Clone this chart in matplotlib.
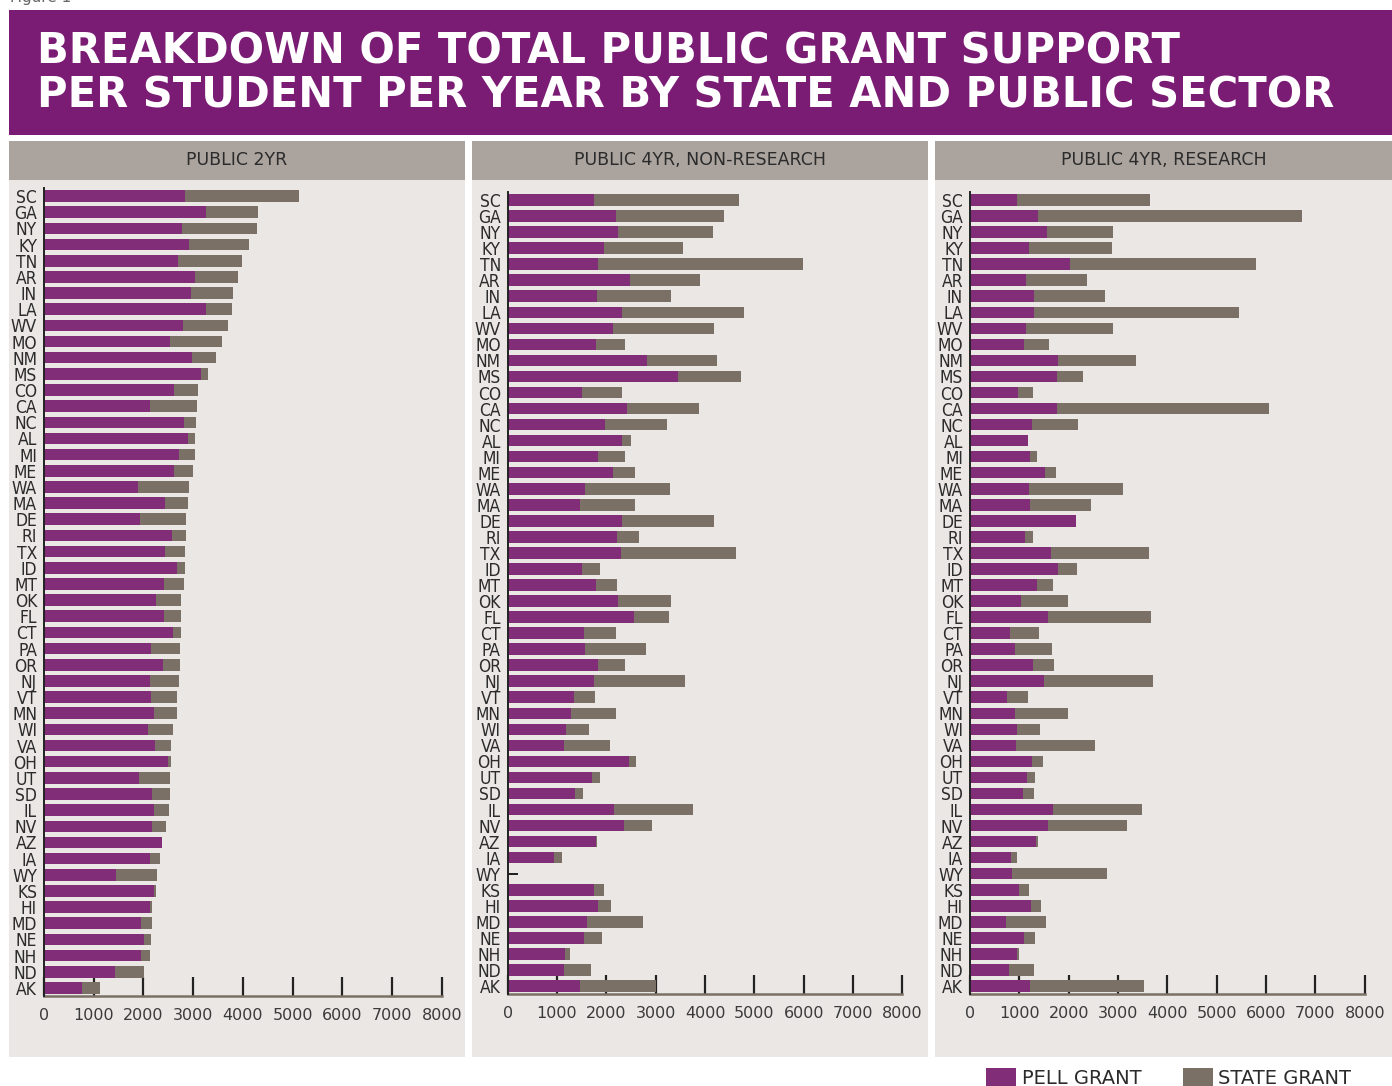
import matplotlib.pyplot as plt
from matplotlib.patches import Rectangle
import numpy as np

states = ['SC', 'GA', 'NY', 'KY', 'TN', 'AR', 'IN', 'LA', 'WV', 'MO', 'NM', 'MS', 'CO', 'CA', 'NC', 'AL', 'MI',
          'ME', 'WA', 'MA', 'DE', 'RI', 'TX', 'ID', 'MT', 'OK', 'FL', 'CT', 'PA', 'OR', 'NJ', 'VT', 'MN', 'WI',
          'VA', 'OH', 'UT', 'SD', 'IL', 'NV', 'AZ', 'IA', 'WY', 'KS', 'HI', 'MD', 'NE', 'NH', 'ND', 'AK']

# public 2yr
pell_2yr = [2840, 3260, 2780, 2920, 2700, 3040, 2960, 3260, 2800, 2540, 2980, 3160, 2620, 2135, 2820, 2900, 2720,
            2620, 1890, 2435, 1935, 2575, 2435, 2680, 2415, 2255, 2415, 2595, 2155, 2395, 2135, 2155, 2215, 2095,
            2235, 2495, 1915, 2175, 2215, 2175, 2375, 2135, 1450, 2215, 2135, 1955, 2015, 1955, 1430, 765]
state_2yr = [2295, 1050, 1510, 1210, 1290, 865, 845, 525, 905, 1045, 485, 140, 485, 945, 240, 140, 320,
             380, 1025, 465, 925, 285, 405, 160, 405, 505, 345, 160, 585, 340, 585, 525, 465, 505,
             320, 60, 625, 365, 300, 280, 0, 200, 825, 40, 40, 220, 140, 180, 585, 365]

# public 4yr, non-research (no data for WY)
pell_4nr = [1750, 2195, 2235, 1955, 1830, 2480, 1810, 2320, 2135, 1790, 2825, 3455, 1505, 2420, 1975, 2320, 1830,
            2135, 1570, 1465, 2320, 2215, 2295, 1505, 1790, 2235, 2560, 1545, 1570, 1830, 1750, 1345, 1285, 1180,
            1140, 2460, 1710, 1365, 2155, 2360, 1790, 940, np.nan, 1750, 1830, 1610, 1545, 1160, 1140, 1465]
state_4nr = [2940, 2190, 1925, 1600, 4155, 1420, 1500, 2470, 2045, 590, 1420, 1275, 810, 1460, 1255, 180, 550,
             445, 1725, 1115, 1865, 445, 2330, 365, 425, 1075, 710, 650, 1235, 550, 1845, 425, 910, 470,
             935, 140, 165, 160, 1600, 570, 20, 160, np.nan, 205, 265, 1135, 365, 100, 550, 1540]

# public 4yr, research
pell_4r = [955, 1380, 1560, 1195, 2025, 1135, 1295, 1295, 1135, 1095, 1785, 1765, 975, 1765, 1255, 1175, 1215,
           1520, 1195, 1215, 2150, 1115, 1640, 1785, 1360, 1035, 1580, 810, 910, 1275, 1500, 750, 910, 955,
           930, 1255, 1155, 1075, 1680, 1580, 1340, 830, 850, 995, 1235, 730, 1095, 955, 790, 1215]
state_4r = [2695, 5350, 1340, 1680, 3770, 1235, 1440, 4155, 1765, 505, 1580, 525, 305, 4295, 930, 0, 140,
            225, 1905, 1235, 0, 160, 1985, 385, 325, 950, 2090, 590, 750, 425, 2210, 425, 1075, 465,
            1600, 225, 165, 225, 1805, 1600, 40, 120, 1925, 200, 205, 810, 225, 40, 505, 2310]

panels = ['PUBLIC 2YR', 'PUBLIC 4YR, NON-RESEARCH', 'PUBLIC 4YR, RESEARCH']
series = [(pell_2yr, state_2yr), (pell_4nr, state_4nr), (pell_4r, state_4r)]
xticks = [0, 1000, 2000, 3000, 4000, 5000, 6000, 7000, 8000]

PURPLE = '#812d78'
BANNER = '#7b1c74'
GREY = '#7a7066'
PANEL_BG = '#ebe7e5'
HEAD_BG = '#aaa39e'
TXT = '#2b2b2b'

W, H = 1392, 1086
fig = plt.figure(figsize=(W / 100, H / 100), dpi=100)
fig.patch.set_facecolor('white')


def box(x0, y0, x1, y1, color):
    # rectangle given in pixel coords, y measured from the top
    fig.add_artist(Rectangle((x0 / W, 1 - y1 / H), (x1 - x0) / W, (y1 - y0) / H,
                             transform=fig.transFigure, color=color, zorder=-5, lw=0))


fig.text(10 / W, 1 + 2 / H, 'Figure 1', fontsize=11, color='#666666', va='center')

# title banner
box(9, 10, 1400, 135, BANNER)
fig.text(37 / W, 1 - 51 / H, 'BREAKDOWN OF TOTAL PUBLIC GRANT SUPPORT', color='white',
         fontsize=30, fontweight='bold', va='center', family='DejaVu Sans')
fig.text(37 / W, 1 - 96 / H, 'PER STUDENT PER YEAR BY STATE AND PUBLIC SECTOR', color='white',
         fontsize=30, fontweight='bold', va='center', family='DejaVu Sans')

panel_x = [(9, 465), (472, 928), (935, 1400)]
axis_x = [(44, 441.7), (507.7, 902.3), (970, 1364.7)]
axis_y = [(188, 996), (192, 994), (192, 994)]

y = np.arange(len(states))
for i in range(3):
    px0, px1 = panel_x[i]
    box(px0, 141, px1, 180, HEAD_BG)
    box(px0, 180, px1, 1057, PANEL_BG)
    fig.text(((px0 + min(px1, 1392)) / 2) / W, 1 - 160 / H, panels[i], ha='center', va='center',
             fontsize=12.5, color=TXT, fontweight='medium')

    ax0, ax1 = axis_x[i]
    ay0, ay1 = axis_y[i]
    ax = fig.add_axes([ax0 / W, 1 - ay1 / H, (ax1 - ax0) / W, (ay1 - ay0) / H])
    ax.patch.set_alpha(0)
    pell, state = series[i]
    pell = np.array(pell, dtype=float)
    state = np.array(state, dtype=float)
    ax.barh(y, pell, height=0.72, color=PURPLE, zorder=2)
    ax.barh(y, state, left=pell, height=0.72, color=GREY, zorder=2)
    # missing data marker
    miss = np.isnan(pell)
    if miss.any():
        ax.barh(y[miss], 200, height=0.12, color='#222222', zorder=2)

    ax.set_xlim(0, 8000)
    ax.set_ylim(len(states) - 0.5, -0.5)
    ax.set_yticks(y)
    ax.set_yticklabels(states, family='DejaVu Sans', fontstretch='condensed', fontsize=12.5, color=TXT)
    ax.set_xticks(xticks)
    ax.set_xticklabels([str(t) for t in xticks], fontsize=11.5, color='#3a3a3a')
    ax.tick_params(axis='y', length=0, pad=5)
    ax.tick_params(axis='x', direction='in', length=14, width=1.6, color='#222222', pad=9)
    ax.set_axisbelow(True)
    for s in ['top', 'right']:
        ax.spines[s].set_visible(False)
    ax.spines['left'].set_color('#222222')
    ax.spines['left'].set_linewidth(1.4)
    ax.spines['left'].set_zorder(3)
    ax.spines['bottom'].set_color(GREY)
    ax.spines['bottom'].set_linewidth(1.8)

# legend
box(986, 1068, 1016, 1090, PURPLE)
fig.text(1022 / W, 1 - 1079 / H, 'PELL GRANT', fontsize=14, color=TXT, va='center', fontweight='medium')
box(1183, 1068, 1213, 1090, GREY)
fig.text(1218 / W, 1 - 1079 / H, 'STATE GRANT', fontsize=14, color=TXT, va='center', fontweight='medium')

fig.savefig('out.png', dpi=100)
